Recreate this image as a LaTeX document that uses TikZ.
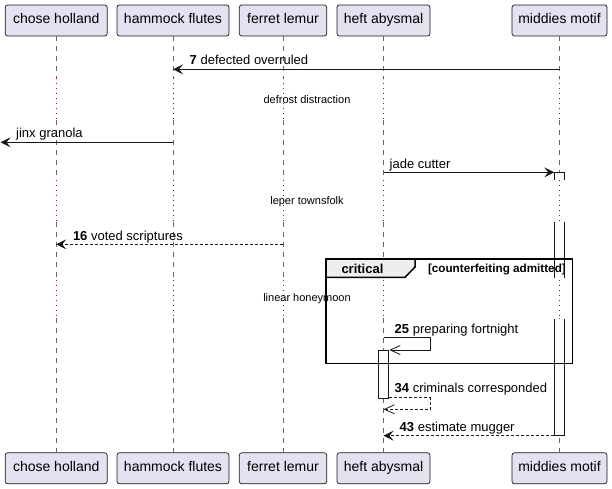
\documentclass[tikz,border=0pt]{standalone}
\usepackage{fontspec}
\setmainfont{Liberation Sans}
\usetikzlibrary{arrows.meta}

\definecolor{partfill}{HTML}{E2E2F0}
\definecolor{partline}{HTML}{181818}
\definecolor{delaydot}{HTML}{A80036}
\definecolor{tabfill}{HTML}{EEEEEE}

\begin{document}
\begin{tikzpicture}[x=1pt,y=-1pt,
  part/.style={draw=partline, fill=partfill, rounded corners=2.5pt, line width=0.7pt,
    minimum height=31pt, inner xsep=0pt, inner ysep=0pt, text height=10pt, text depth=3pt,
    font=\fontsize{14}{16}\selectfont},
  life/.style={draw=black!60, line width=0.7pt, dash pattern=on 5pt off 5pt},
  delayln/.style={draw=delaydot, line width=0.9pt, dash pattern=on 1pt off 4pt},
  msg/.style={draw=partline, line width=1pt},
  ret/.style={msg, dash pattern=on 3pt off 2pt},
  full/.style={-{Stealth[length=10pt,width=10pt,inset=4pt]}},
  open/.style={-{Straight Barb[length=10pt,width=9pt,line width=0.8pt]}},
  mlabel/.style={anchor=base west, inner sep=0pt, font=\fontsize{13}{15}\selectfont},
  dlabel/.style={anchor=center, inner sep=0pt, font=\fontsize{11}{13}\selectfont},
  actbox/.style={draw=partline, fill=white, line width=1pt},
  grp/.style={draw=black, line width=1.5pt}
]
\useasboundingbox (0,0) rectangle (612,489);

% participants, top and bottom
\foreach \id/\txt/\cx/\w in {ch/chose holland/56.2/102, hm/hammock flutes/173/112,
    fl/ferret lemur/283/87.4, ha/heft abysmal/383.5/93, mm/middies motif/559.5/95}{
  \node[part, minimum width=\w pt] (\id-top) at (\cx,20.5) {\txt};
  \node[part, minimum width=\w pt] (\id-bot) at (\cx,468.3) {\txt};
}

% lifelines, dotted through the three delays
\foreach \id in {ch,hm,fl,ha,mm}{
  \draw[life]    (\id-top.south) -- (\id-top.south |- 0,78);
  \draw[delayln] (\id-top.south |- 0,78) -- (\id-top.south |- 0,120);
  \draw[life]    (\id-top.south |- 0,120) -- (\id-top.south |- 0,180);
  \draw[delayln] (\id-top.south |- 0,180) -- (\id-top.south |- 0,221.7);
  \draw[life]    (\id-top.south |- 0,221.7) -- (\id-top.south |- 0,280);
  \draw[delayln] (\id-top.south |- 0,280) -- (\id-top.south |- 0,318);
  \draw[life]    (\id-top.south |- 0,318) -- (\id-bot.north);
}

% activation on middies motif, broken by the delays
\fill[white] (554.3,172.3) rectangle (564.3,180);
\fill[white] (554.3,221.7) rectangle (564.3,278.3);
\fill[white] (554.3,319) rectangle (564.3,435.7);
\draw[partline, line width=1pt] (554.3,180) -- (554.3,172.3) -- (564.3,172.3) -- (564.3,180);
\draw[partline, line width=1pt] (554.3,221.7) -- (554.3,278.3) (564.3,221.7) -- (564.3,278.3);
\draw[partline, line width=1pt] (554.3,319) -- (554.3,435.7) -- (564.3,435.7) -- (564.3,319);
\coordinate (mmact-in)  at (554.3,172.3);
\coordinate (mmact-out) at (554.3,435.7);

% activation on heft abysmal
\node[actbox, minimum width=10pt, minimum height=48.3pt, inner sep=0pt, anchor=north west] (haact) at (378.3,350) {};

% critical group
\draw[grp] (326,259) rectangle (572.7,363.3);
\draw[grp, fill=tabfill, line join=miter] (326,259) -- (415,259) -- (415,267) -- (405,277.3) -- (326,277.3) -- cycle;
\node[anchor=base west, inner sep=0pt, font=\fontsize{13}{15}\selectfont\bfseries] (crit) at (341.3,273.8) {critical};
\node[anchor=base west, inner sep=0pt, font=\fontsize{11.7}{14}\selectfont\bfseries] (cond) at (427.8,272.6) {[counterfeiting admitted]};

% messages
\draw[msg, full] (mm-top.south |- 0,69.3) -- (hm-top.south |- 0,69.3);
\node[mlabel] (m7) at (189.5,64.8) {\textbf{7} defected overruled};

\node[dlabel] (d1) at (307,100) {defrost distraction};

\coordinate (lost) at (0.5,142.3);
\draw[msg, full] (hm-top.south |- 0,142.3) -- (lost);
\node[mlabel] (mj) at (16,138) {jinx granola};

\draw[msg, full] (ha-top.south |- 0,172.3) -- (mmact-in);
\node[mlabel] (mjc) at (389.5,168) {jade cutter};

\node[dlabel] (d2) at (307,202) {leper townsfolk};

\draw[ret, full] (fl-top.south |- 0,244.3) -- (ch-top.south |- 0,244.3);
\node[mlabel] (m16) at (72.8,240) {\textbf{16} voted scriptures};

\node[dlabel] (d3) at (307,299) {linear honeymoon};

\draw[msg, open] (ha-top.south |- 0,337.7) -- (430,337.7) -- (430,350) -- (haact.north east);
\node[mlabel] (m25) at (394.5,333) {\textbf{25} preparing fortnight};

\draw[ret, open] (haact.east |- 0,397.3) -- (430,397.3) -- (430,409.3) -- (ha-top.south |- 0,409.3);
\node[mlabel] (m34) at (394.5,392.8) {\textbf{34} criminals corresponded};

\draw[ret, full] (mmact-out) -- (ha-top.south |- 0,435.7);
\node[mlabel] (m43) at (399.5,431.2) {\textbf{43} estimate mugger};
\end{tikzpicture}
\end{document}
